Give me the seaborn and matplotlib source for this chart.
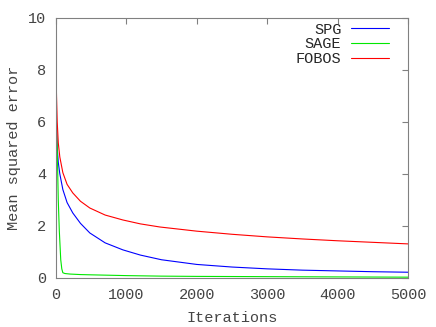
import numpy as np
import pandas as pd
import matplotlib
matplotlib.use("Agg")
import matplotlib.pyplot as plt
import seaborn as sns

# --- Values (iterations vs. mean squared error) ---
spg_iter = [0, 5, 10, 20, 35, 57, 100, 160, 241, 350, 483, 700, 952, 1200, 1500, 2000, 2500, 3000, 3500, 4000, 4500, 5000]
spg_mse = [7.7, 6.6, 5.8, 5.0, 4.45, 4.0, 3.4, 2.9, 2.5, 2.1, 1.73, 1.35, 1.08, 0.88, 0.7, 0.52, 0.42, 0.35, 0.3, 0.27, 0.24, 0.22]

sage_iter = [0, 5, 10, 20, 35, 50, 70, 85, 100, 130, 200, 350, 500, 1000, 1500, 2000, 3000, 4000, 5000]
sage_mse = [6.5, 6.2, 5.8, 5.0, 3.0, 1.8, 0.7, 0.35, 0.2, 0.17, 0.15, 0.13, 0.12, 0.09, 0.07, 0.06, 0.05, 0.04, 0.03]

fobos_iter = [0, 3, 6, 10, 20, 35, 57, 100, 160, 241, 350, 483, 700, 952, 1200, 1477, 2000, 2500, 3000, 3500, 4000, 4500, 5000]
fobos_mse = [9.6, 8.6, 7.6, 7.0, 6.0, 5.2, 4.65, 4.05, 3.6, 3.27, 2.95, 2.69, 2.42, 2.23, 2.08, 1.96, 1.8, 1.68, 1.58, 1.5, 1.43, 1.37, 1.31]

labels = ["SPG", "SAGE", "FOBOS"]
colors = ["#0000ff", "#00e800", "#ff0000"]

sns.set_style("white")
plt.rcParams["font.family"] = ["Liberation Mono", "DejaVu Sans Mono"]

fig = plt.figure(figsize=(4.36, 3.27), dpi=100)
ax = fig.add_axes([0.128, 0.150, 0.808, 0.795])

for x, y, lab, c in zip([spg_iter, sage_iter, fobos_iter], [spg_mse, sage_mse, fobos_mse], labels, colors):
    df = pd.DataFrame({"Iterations": x, "MSE": y})
    sns.lineplot(data=df, x="Iterations", y="MSE", ax=ax, color=c, lw=0.8, label=lab)

ax.set_xlim(0, 5000)
ax.set_ylim(0, 10)
ax.set_xticks(range(0, 5001, 1000))
ax.set_yticks(range(0, 11, 2))
ax.set_xlabel("Iterations", fontsize=11, color="#444444", labelpad=7)
ax.set_ylabel("Mean squared error", fontsize=11, color="#444444", labelpad=5)
ax.tick_params(direction="in", length=4, color="#808080", labelsize=11, labelcolor="#444444",
               top=True, right=True, pad=7)
for s in ax.spines.values():
    s.set_color("#808080")
    s.set_linewidth(0.8)

ax.legend(loc="upper right", bbox_to_anchor=(0.971, 1.017), frameon=False, markerfirst=False,
          fontsize=11, handlelength=2.5, labelspacing=0.05, borderaxespad=0.2, handletextpad=0.6)

fig.savefig("out.png", dpi=100)
